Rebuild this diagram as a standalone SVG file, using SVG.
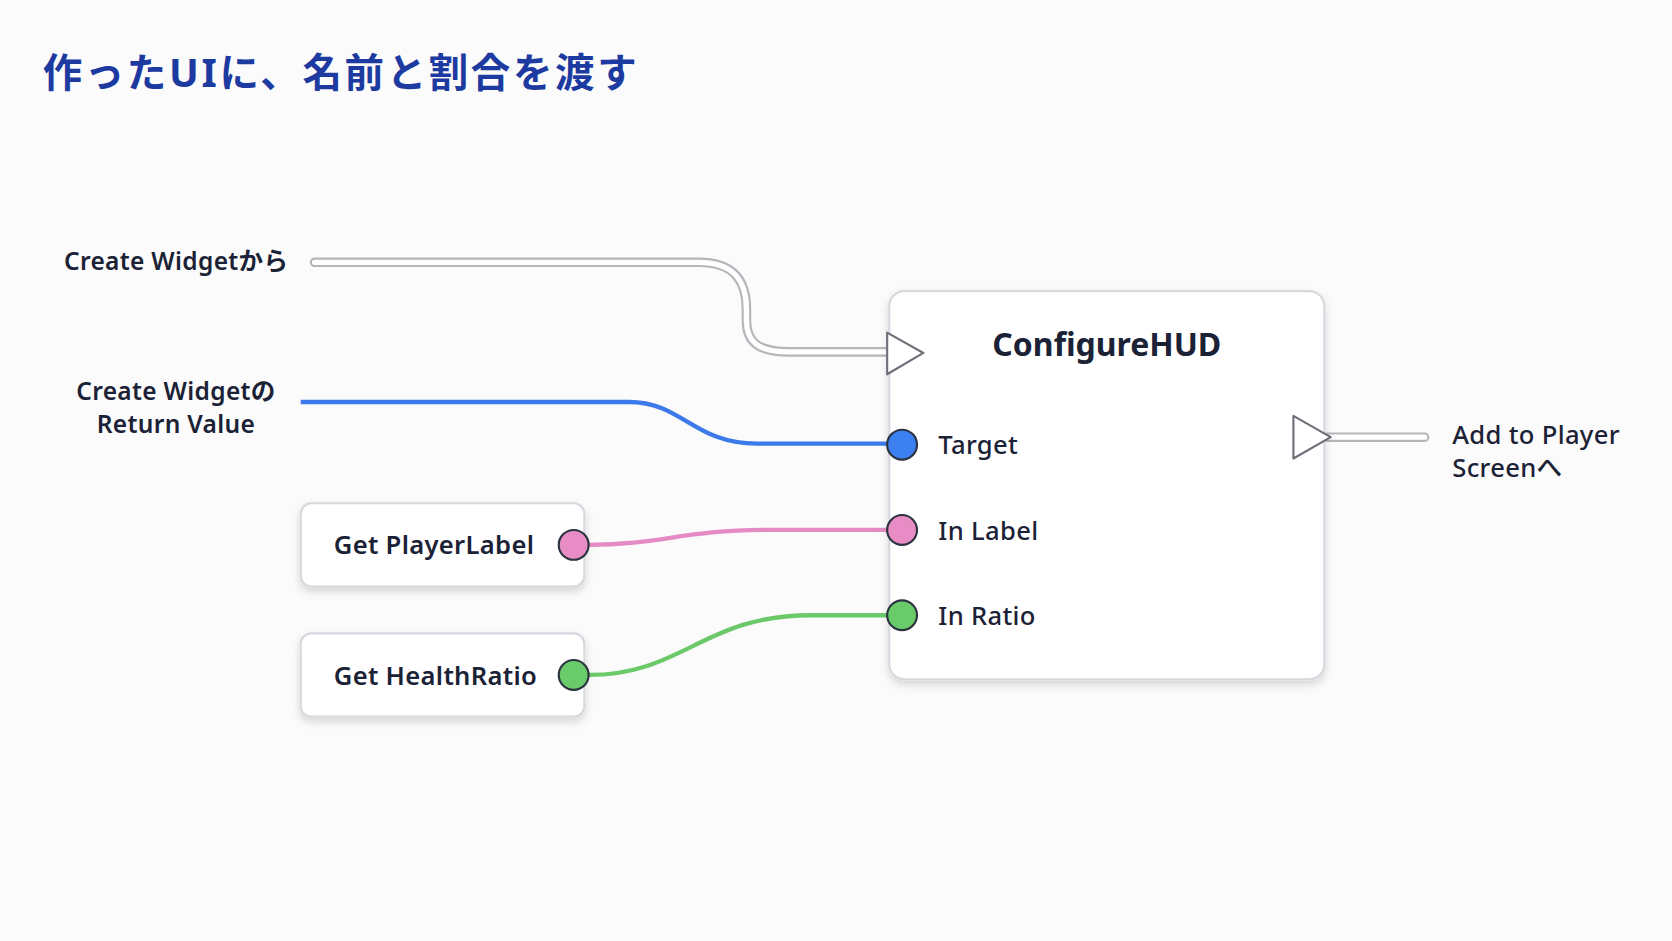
<svg xmlns="http://www.w3.org/2000/svg" width="1672" height="941" viewBox="0 0 1672 941">
<defs>
<style>
text{font-family:"Noto Sans","Noto Sans CJK JP",sans-serif;fill:#1b2236}
.lbl{font-size:23px;font-weight:600;letter-spacing:0.3px}
.pin{font-size:24px;font-weight:500;letter-spacing:0.3px}
.node{fill:#fff;stroke:#d6d8de;stroke-width:2}
.exo{fill:none;stroke:#b4b6bb;stroke-width:9;stroke-linecap:round}
.exi{fill:none;stroke:#fff;stroke-width:5;stroke-linecap:round}
.tri{fill:#fff;stroke:#6d7078;stroke-width:2;stroke-linejoin:round}
.dot{stroke:#2b3340;stroke-width:2}
</style>
<filter id="sh" x="-10%" y="-10%" width="120%" height="130%"><feDropShadow dx="0" dy="4" stdDeviation="4" flood-color="#000" flood-opacity="0.15"/></filter>
</defs>
<rect width="1672" height="941" fill="#fbfbfc"/>
<g transform="scale(1.0663)">
<text x="40" y="82" style="font-size:37px;font-weight:700;fill:#1c3aa0;letter-spacing:2.5px">作ったUIに、名前と割合を渡す</text>
<g id="connectors">
<path class="exo" d="M295 246 H655 C690 246 700 265 700 290 V300 C700 320 710 330 740 330 H835"/>
<path class="exi" d="M295 246 H655 C690 246 700 265 700 290 V300 C700 320 710 330 740 330 H835"/>
<path class="exo" d="M1245 410 H1336"/>
<path class="exi" d="M1245 410 H1336"/>
<path d="M282 377 H590 C640 377 650 416 710 416 H834" fill="none" stroke="#3b7ae8" stroke-width="4"/>
<path d="M552 511 C620 511 640 497 720 497 H834" fill="none" stroke="#e48bc4" stroke-width="4"/>
<path d="M552 633 C640 633 660 577 760 577 H834" fill="none" stroke="#6cc96a" stroke-width="4"/>
</g>
<g id="label-create-exec"><text class="lbl" x="60" y="253">Create Widgetから</text></g>
<g id="label-create-return"><text class="lbl" x="165" y="375" text-anchor="middle">Create Widgetの</text><text class="lbl" x="165" y="406" text-anchor="middle">Return Value</text></g>
<g id="node-configurehud">
<rect class="node" x="834" y="273" width="408" height="364" rx="14" filter="url(#sh)"/>
<text x="1038" y="334" text-anchor="middle" style="font-size:30px;font-weight:700">ConfigureHUD</text>
<polygon class="tri" points="832,312 866,331 832,351"/>
<polygon class="tri" points="1213,390 1248,410 1213,430"/>
<circle class="dot" cx="846" cy="417" r="14" fill="#3b7ff0"/><text class="pin" x="880" y="426">Target</text>
<circle class="dot" cx="846" cy="497" r="14" fill="#e78cc4"/><text class="pin" x="880" y="506">In Label</text>
<circle class="dot" cx="846" cy="577" r="14" fill="#6acb6a"/><text class="pin" x="880" y="586">In Ratio</text>
</g>
<g id="node-get-playerlabel">
<rect class="node" x="282" y="472" width="266" height="78" rx="10" filter="url(#sh)"/>
<text class="pin" x="313" y="520" style="font-weight:600">Get PlayerLabel</text>
<circle class="dot" cx="538" cy="511" r="14" fill="#e78cc4"/>
</g>
<g id="node-get-healthratio">
<rect class="node" x="282" y="594" width="266" height="78" rx="10" filter="url(#sh)"/>
<text class="pin" x="313" y="642" style="font-weight:600">Get HealthRatio</text>
<circle class="dot" cx="538" cy="633" r="14" fill="#6acb6a"/>
</g>
<g id="label-add-to-screen"><text class="pin" x="1362" y="416">Add to Player</text><text class="pin" x="1362" y="447">Screenへ</text></g>
</g>
</svg>
